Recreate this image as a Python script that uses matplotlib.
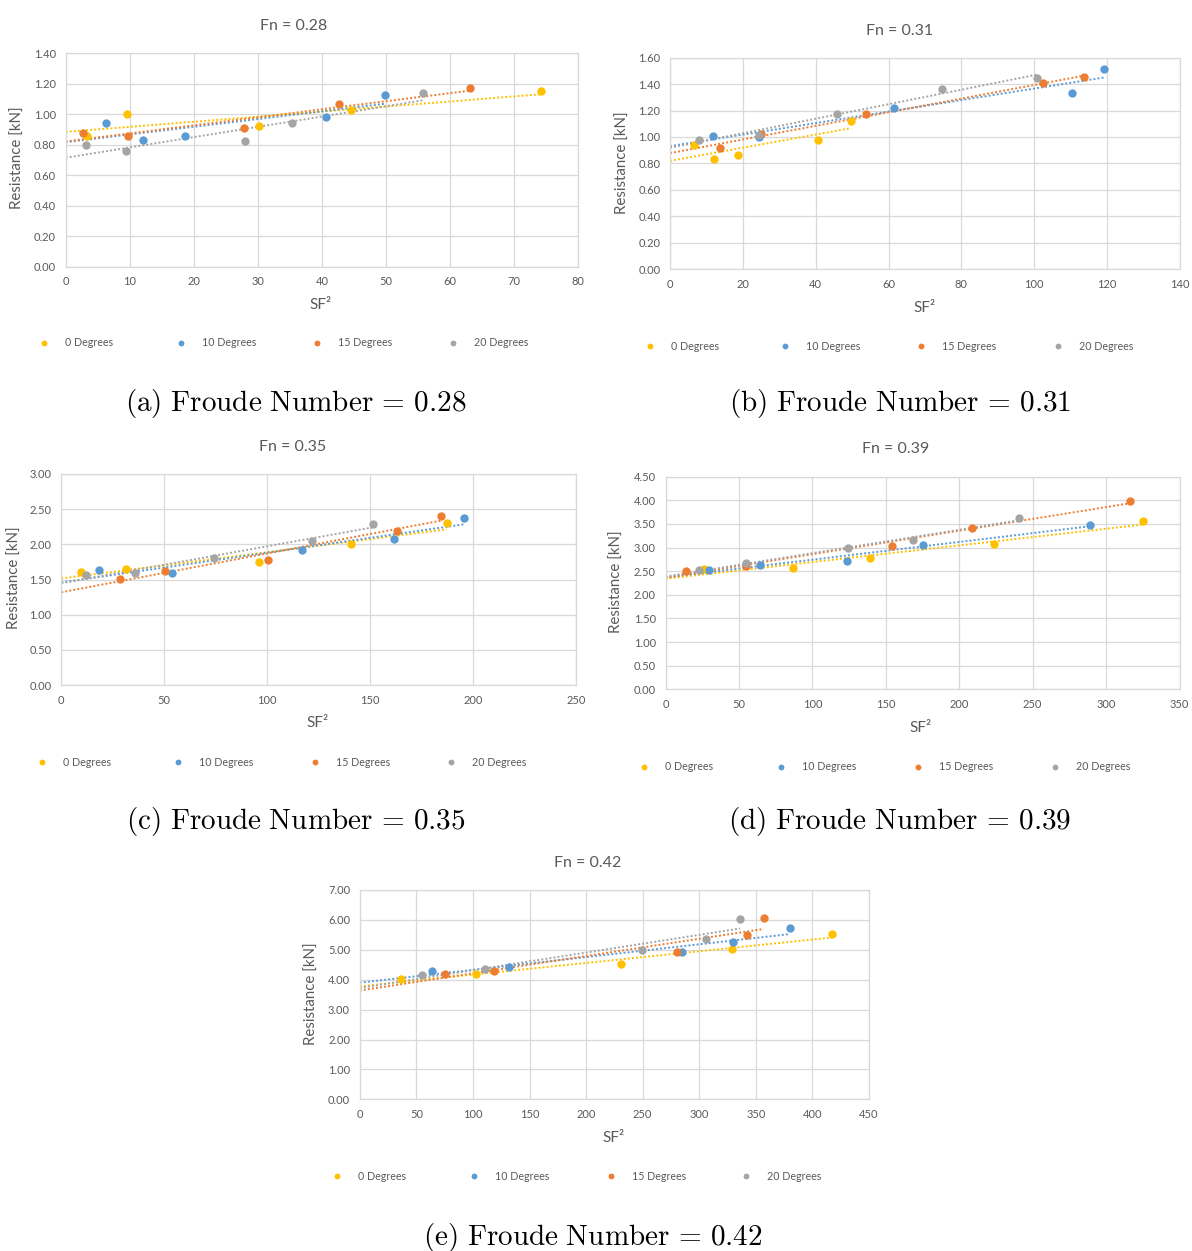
import numpy as np
import matplotlib
matplotlib.use("Agg")
import matplotlib.pyplot as plt
from matplotlib.lines import Line2D
from matplotlib.ticker import FormatStrFormatter, MultipleLocator

plt.rcParams['mathtext.fontset'] = 'cm'

series_labels = ["0 Degrees", "10 Degrees", "15 Degrees", "20 Degrees"]
series_colors = ["#FFC000", "#5B9BD5", "#ED7D31", "#A5A5A5"]
froude_numbers = ["0.28", "0.31", "0.35", "0.39", "0.42"]
panel_letters = ["a", "b", "c", "d", "e"]

# SF^2 (x) and resistance [kN] (y); each list holds the 0/10/15/20 degree series
sf2_a = [[3.4, 9.5, 30.2, 44.6, 74.2], [6.3, 12.05, 18.7, 40.7, 49.8],
         [2.75, 9.7, 27.9, 42.7, 63.2], [3.2, 9.4, 28.05, 35.4, 55.8]]
res_a = [[0.86, 1.00, 0.92, 1.03, 1.15], [0.94, 0.83, 0.855, 0.98, 1.125],
         [0.88, 0.855, 0.91, 1.065, 1.17], [0.80, 0.76, 0.825, 0.94, 1.14]]

sf2_b = [[6.5, 12.2, 18.6, 40.7, 49.7], [11.9, 24.5, 61.6, 110.4, 119.1],
         [13.8, 25.0, 53.7, 102.5, 113.7], [8.0, 24.5, 45.9, 74.7, 100.7]]
res_b = [[0.94, 0.83, 0.86, 0.98, 1.12], [1.01, 1.00, 1.22, 1.335, 1.515],
         [0.92, 1.025, 1.175, 1.405, 1.455], [0.98, 1.015, 1.175, 1.365, 1.45]]

sf2_c = [[9.6, 31.6, 96.0, 140.7, 187.1], [18.5, 54.0, 116.8, 161.5, 195.4],
         [28.7, 50.4, 100.2, 163.0, 184.4], [11.8, 36.0, 74.2, 121.7, 151.4]]
res_c = [[1.61, 1.65, 1.75, 2.00, 2.30], [1.64, 1.59, 1.92, 2.08, 2.37],
         [1.51, 1.62, 1.78, 2.19, 2.40], [1.57, 1.59, 1.81, 2.05, 2.29]]

sf2_d = [[26.3, 87.0, 139.1, 223.8, 325.4], [29.5, 64.6, 123.5, 175.0, 289.3],
         [14.0, 54.6, 154.0, 208.8, 316.1], [22.9, 54.8, 124.6, 168.2, 241.0]]
res_d = [[2.55, 2.57, 2.77, 3.08, 3.56], [2.53, 2.63, 2.71, 3.05, 3.48],
         [2.50, 2.61, 3.03, 3.41, 3.98], [2.52, 2.67, 2.99, 3.15, 3.63]]

sf2_e = [[36.8, 102.9, 231.1, 328.9, 417.2], [64.1, 131.8, 285.0, 330.0, 380.1],
         [75.6, 118.5, 280.6, 341.9, 356.9], [54.7, 110.9, 249.6, 306.2, 336.0]]
res_e = [[4.01, 4.18, 4.52, 5.03, 5.52], [4.28, 4.42, 4.92, 5.26, 5.72],
         [4.19, 4.30, 4.92, 5.50, 6.05], [4.16, 4.35, 4.98, 5.36, 6.03]]

x_limits = [80, 140, 250, 350, 450]
x_steps = [10, 20, 50, 50, 50]
y_limits = [1.4, 1.6, 3.0, 4.5, 7.0]
y_steps = [0.2, 0.2, 0.5, 0.5, 1.0]

W, H = 1192, 1251
fig = plt.figure(figsize=(W / 100, H / 100), dpi=100)

# layout (pixels): plot-area left, right, top, bottom
boxes = [(65.7, 578, 53.3, 266.7), (670, 1180, 57.7, 269),
         (61.3, 576, 474, 685), (665.5, 1179.5, 476.7, 689.3),
         (359.8, 869, 890, 1099.3)]
title_pos = [(294, 26), (900, 31), (293, 447), (896, 449), (588, 863)]
ylabel_pos = [(18, 158), (623, 163), (15, 578), (617, 582), (312, 994)]
xlabel_pos = [(321, 305), (925, 308), (318, 723), (921, 728), (614, 1138)]
legend_x = [(44, 181, 317, 453), (650, 785, 921, 1058), (42, 178, 315, 451),
            (644, 781, 918, 1055), (337, 474, 611, 746)]
legend_y = [343, 346, 762, 767, 1176]
caption_pos = [(296, 403), (900, 403), (296, 822), (900, 822), (593, 1237)]

sf2_all = [sf2_a, sf2_b, sf2_c, sf2_d, sf2_e]
res_all = [res_a, res_b, res_c, res_d, res_e]

UI = "Lato"
tick_col = "#595959"
grid_col = "#D9D9D9"

def fx(px):
    return px / W

def fy(py):
    return 1 - py / H

for i in range(5):
    l, r, t, b = boxes[i]
    ax = fig.add_axes([fx(l), fy(b), (r - l) / W, (b - t) / H])
    for k in range(4):
        xs = np.array(sf2_all[i][k])
        ys = np.array(res_all[i][k])
        slope, icpt = np.polyfit(xs, ys, 1)
        xl = np.array([0, xs.max()])
        ax.plot(xl, icpt + slope * xl, color=series_colors[k], lw=1.4,
                linestyle=(0, (1, 1.1)), zorder=2)
        ax.scatter(xs, ys, s=36, color=series_colors[k], zorder=3, linewidths=0)
    ax.set_xlim(0, x_limits[i])
    ax.set_ylim(0, y_limits[i])
    ax.xaxis.set_major_locator(MultipleLocator(x_steps[i]))
    ax.yaxis.set_major_locator(MultipleLocator(y_steps[i]))
    ax.yaxis.set_major_formatter(FormatStrFormatter("%.2f"))
    ax.grid(True, color=grid_col, lw=0.9)
    ax.set_axisbelow(True)
    for s in ax.spines.values():
        s.set_color(grid_col)
        s.set_linewidth(0.9)
    ax.tick_params(length=0, labelsize=8, colors=tick_col, pad=7)
    for lab in ax.get_xticklabels() + ax.get_yticklabels():
        lab.set_fontfamily(UI)

    fig.text(fx(title_pos[i][0]), fy(title_pos[i][1]), "Fn = " + froude_numbers[i],
             ha="center", va="center", fontsize=11.5, color=tick_col, family=UI)
    fig.text(fx(ylabel_pos[i][0]), fy(ylabel_pos[i][1]), "Resistance [kN]",
             ha="center", va="center", rotation=90, fontsize=10.8, color=tick_col, family=UI)
    fig.text(fx(xlabel_pos[i][0]), fy(xlabel_pos[i][1]), "SF²",
             ha="center", va="center", fontsize=11, color=tick_col, family=UI)
    for k in range(4):
        h = Line2D([], [], marker="o", ls="", color=series_colors[k],
                   markersize=4.2, markeredgewidth=0)
        fig.legend([h], [series_labels[k]], loc="center left",
                   bbox_to_anchor=(fx(legend_x[i][k] - 4.2), fy(legend_y[i])),
                   frameon=False, handlelength=0.8, handletextpad=1.6,
                   borderpad=0, borderaxespad=0,
                   prop={"family": UI, "size": 7.7}, labelcolor=tick_col)
    fig.text(fx(caption_pos[i][0]), fy(caption_pos[i][1]),
             r"$\mathrm{(" + panel_letters[i] + r")\ Froude\ Number}\,=\," + froude_numbers[i] + "$",
             ha="center", va="center", fontsize=21, color="black")

fig.savefig("out.png", dpi=100)
